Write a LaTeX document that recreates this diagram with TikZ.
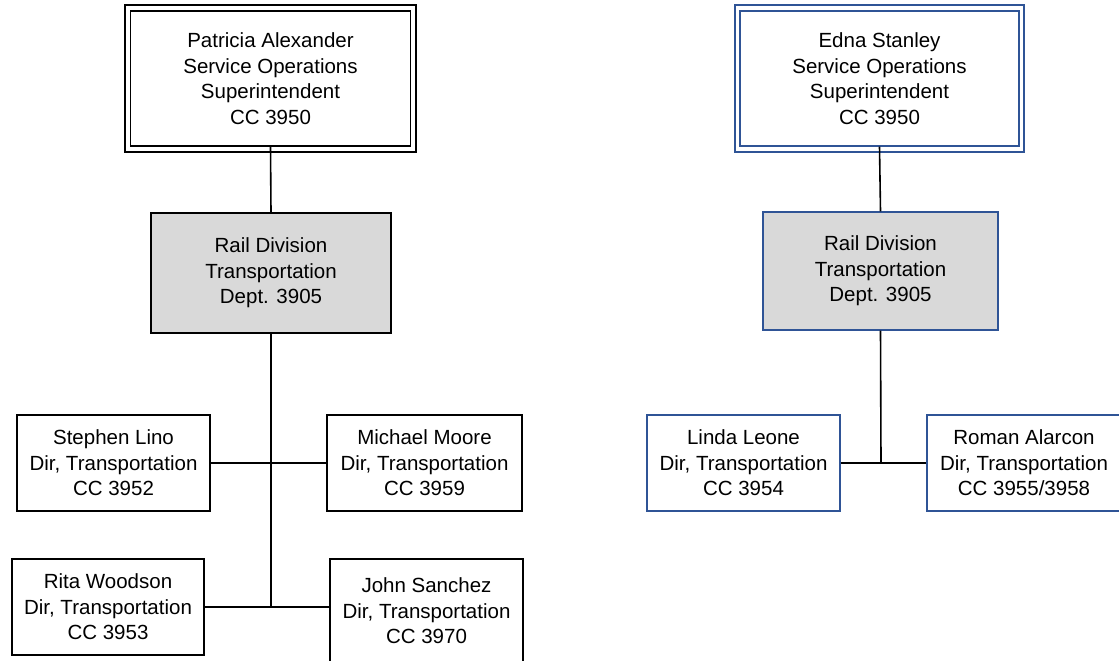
\documentclass[tikz,border=0pt]{standalone}
\usepackage{fontspec}
\setmainfont{Liberation Sans}
\definecolor{boxblue}{HTML}{2F5496}
\definecolor{railgray}{HTML}{D9D9D9}
\begin{document}
\begin{tikzpicture}[x=1pt,y=-1pt,
  every node/.style={font=\fontsize{20.5}{25.5}\selectfont, align=center, inner sep=0pt},
  box/.style={draw=black, line width=1.4pt, fill=white},
  bluebox/.style={draw=boxblue, line width=1.4pt, fill=white},
  railbox/.style={draw=black, line width=1.4pt, fill=railgray},
  bluerail/.style={draw=boxblue, line width=1.4pt, fill=railgray},
  conn/.style={draw=black, line width=1.6pt}]
\useasboundingbox (0,0) rectangle (1119,661);
\fill[white] (0,0) rectangle (1119,661);

% left tree
\node[box, minimum width=280pt, minimum height=135pt] (pa) at (270.5,78.5) {Patricia Alexander\\Service Operations\\Superintendent\\CC 3950};
\draw[line width=2pt] ([xshift=-4.5pt,yshift=5pt]pa.north west) rectangle ([xshift=4.5pt,yshift=-5pt]pa.south east);
\node[railbox, minimum width=240pt, minimum height=120pt] (rl) at (271,273) {Rail Division\\Transportation\\Dept. 3905};
\node[box, minimum width=193pt, minimum height=96pt] (sl) at (113.5,463) {Stephen Lino\\Dir, Transportation\\CC 3952};
\node[box, minimum width=195pt, minimum height=96pt] (mm) at (424.5,463) {Michael Moore\\Dir, Transportation\\CC 3959};
\node[box, minimum width=192pt, minimum height=96pt] (rw) at (108,607) {Rita Woodson\\Dir, Transportation\\CC 3953};
\node[box, minimum width=193pt, minimum height=104pt] (js) at (426.5,611) {John Sanchez\\Dir, Transportation\\CC 3970};
\coordinate (lj) at (271,607);

\path[conn] (pa.south) -- (rl.north);
\path[conn] (rl.south) -- (lj);
\path[conn] (sl.east) -- (mm.west);
\path[conn] (rw.east) -- (rw.east -| js.west);

% right tree
\node[bluebox, minimum width=279pt, minimum height=135pt] (es) at (879.5,78.5) {Edna Stanley\\Service Operations\\Superintendent\\CC 3950};
\draw[boxblue, line width=2pt] ([xshift=-4.5pt,yshift=5pt]es.north west) rectangle ([xshift=4.5pt,yshift=-5pt]es.south east);
\node[bluerail, minimum width=235pt, minimum height=118pt] (rr) at (880.5,271) {Rail Division\\Transportation\\Dept. 3905};
\node[bluebox, minimum width=193pt, minimum height=96pt] (ll) at (743.5,463) {Linda Leone\\Dir, Transportation\\CC 3954};
\node[bluebox, minimum width=194pt, minimum height=96pt] (ra) at (1024,463) {Roman Alarcon\\Dir, Transportation\\CC 3955/3958};
\coordinate (rj) at (881,463);

\path[conn] (es.south) -- (rr.north);
\path[conn] (rr.south) -- (rj);
\path[conn] (ll.east) -- (ra.west);
\end{tikzpicture}
\end{document}
